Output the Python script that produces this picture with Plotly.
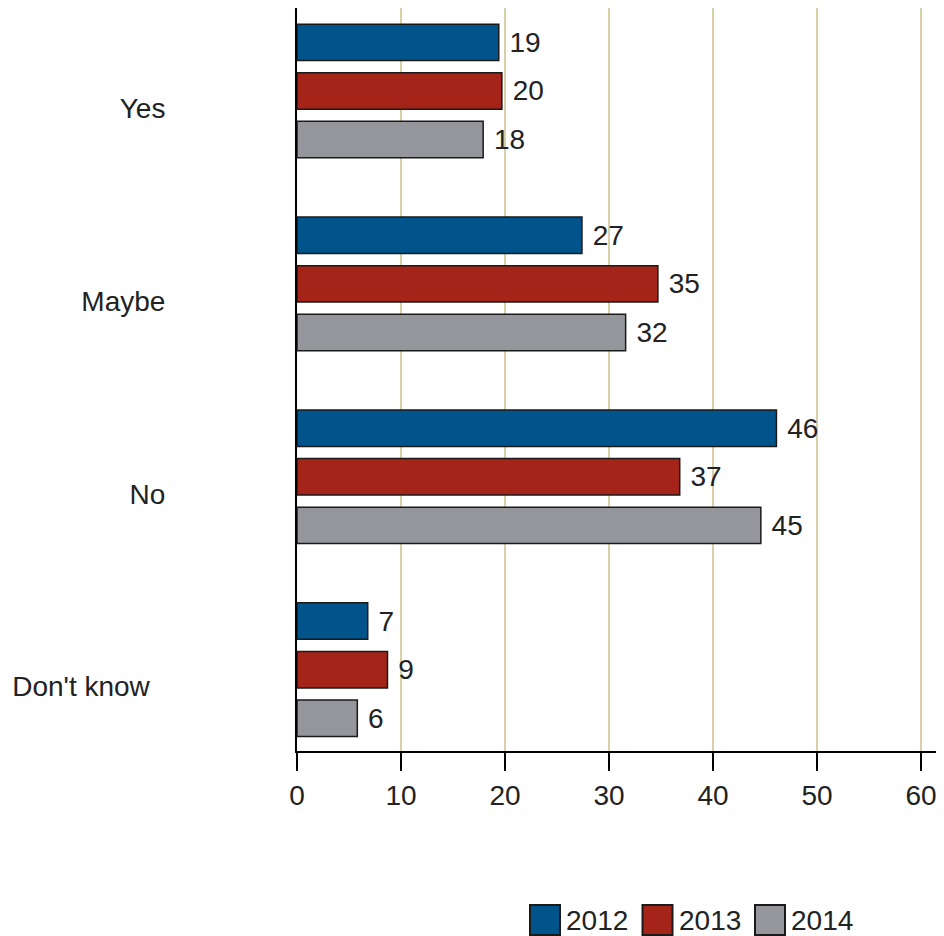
import plotly.graph_objects as go

categories = ["Yes", "Maybe", "No", "Don't know"]
years = ["2012", "2013", "2014"]
values_2012 = [19.4, 27.4, 46.1, 6.8]
values_2013 = [19.7, 34.7, 36.8, 8.7]
values_2014 = [17.9, 31.6, 44.6, 5.8]
colors = ["#00548B", "#A52419", "#94969C"]
x_ticks = [0, 10, 20, 30, 40, 50, 60]

series = [values_2012, values_2013, values_2014]

# the page body adds an 8px margin, so the figure is offset to match the window
OFF = 8
W, H = 944, 936 - OFF
L, R, T, B = 297 - OFF, 0, 0, H - (751 - OFF)
FONT = dict(family="Liberation Sans, Arial, sans-serif", size=28, color="#222222")

positions = list(range(len(categories)))

fig = go.Figure()
for name, vals, col in zip(years, series, colors):
    fig.add_trace(go.Bar(
        name=name, y=positions, x=vals, orientation="h",
        marker=dict(color=col, line=dict(color="#1a1a1a", width=1.5)),
        texttemplate="&nbsp;%{x:.0f}", textposition="outside",
        textfont=FONT, constraintext="none", cliponaxis=False,
        showlegend=False, hoverinfo="skip",
    ))

# category labels slightly below group centre, like the reference
label_pad = {"Don't know": "&nbsp;&nbsp;"}
tickvals = [p + 0.088 for p in positions]
ticktext = [c + label_pad.get(c, "") for c in categories]

plot_h = H - T - B
px_per_unit = 10.4
units = plot_h / 192.9
y_min = -(0.425 - (7 - OFF - T) / 192.9)
y_max = y_min + units

def px_x(px):
    return (px - L) / (W - L - R)

def px_y(py):
    return (H - B - py) / plot_h

# legend drawn as shapes + text
shapes = []
annotations = []
leg_x0, leg_step, sq = 530 - OFF, 112.5, 30
leg_y0 = 905 - OFF
for i, (name, col) in enumerate(zip(years, colors)):
    x0 = leg_x0 + i * leg_step
    shapes.append(dict(type="rect", xref="paper", yref="paper",
                       x0=px_x(x0), x1=px_x(x0 + sq), y0=px_y(leg_y0 + sq), y1=px_y(leg_y0),
                       fillcolor=col, line=dict(color="#1a1a1a", width=2)))
    annotations.append(dict(xref="paper", yref="paper", x=px_x(x0 + sq + 4), y=px_y(leg_y0 + sq / 2),
                            text=name, showarrow=False, xanchor="left", yanchor="middle", font=FONT))

fig.update_layout(
    width=W, height=H,
    margin=dict(l=L, r=R, t=T, b=B, pad=0),
    barmode="group", bargap=0.244, bargroupgap=0.25,
    plot_bgcolor="white", paper_bgcolor="white",
    font=FONT,
    shapes=shapes, annotations=annotations,
    xaxis=dict(range=[0, (W - L - R) / px_per_unit], tickvals=x_ticks, showgrid=True,
               gridcolor="#DAD0A8", gridwidth=1.5, zeroline=False,
               showline=True, linecolor="black", linewidth=2,
               ticks="outside", ticklen=18, tickwidth=1.5, tickcolor="black",
               tickfont=FONT, fixedrange=True),
    yaxis=dict(range=[y_max, y_min], tickvals=tickvals, ticktext=ticktext,
               showgrid=False, zeroline=False, showline=True, linecolor="black",
               linewidth=2, ticks="", tickfont=FONT, ticklabelstandoff=124,
               fixedrange=True),
)

fig.write_html("out.html")
